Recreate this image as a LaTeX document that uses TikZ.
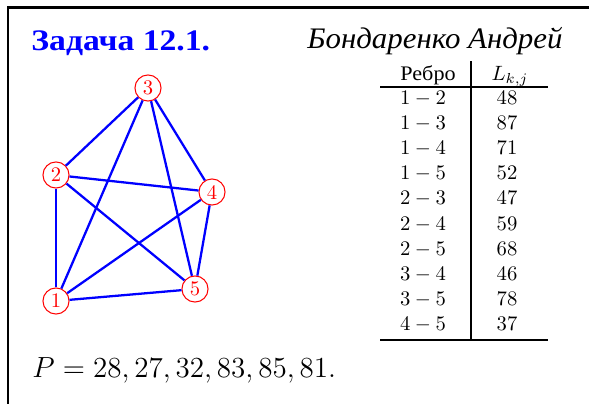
\documentclass[tikz,border=0pt]{standalone}
\usepackage{fontspec}
\newfontfamily\titlefont[FakeStretch=1.13]{Liberation Serif}
\newfontfamily\namefont[FakeStretch=1.035]{Liberation Serif}
\newfontfamily\headfont[FakeStretch=1.07]{Liberation Serif}
\begin{document}
\begin{tikzpicture}[x=0.4831pt,y=-0.4831pt,
  vtx/.style={circle,draw=red,line width=0.5pt,text=red,minimum size=12.6pt,inner sep=0pt,font=\normalsize},
  edge/.style={blue,line width=1.1pt},
  rulel/.style={line width=1.3pt},
  frameline/.style={line width=1.35pt},
  txt/.style={anchor=base,inner sep=0pt,font=\normalsize}]
\useasboundingbox (0,0) rectangle (589,403);
% frame
\coordinate (fb) at (8,410);
\coordinate (fc) at (8,7.7);
\coordinate (fr) at (595,7.7);
\draw[frameline] (fb) -- (fc) -- (fr);
% title and author
\node[anchor=base west,inner sep=0pt,text=blue,font=\titlefont\Large\bfseries] (title) at (31,50) {Задача 12.1.};
\node[anchor=base west,inner sep=0pt,font=\namefont\Large\itshape] (author) at (307,48) {Бондаренко Андрей};
% graph
\node[vtx] (n1) at (56,301) {1};
\node[vtx] (n2) at (56,175) {2};
\node[vtx] (n3) at (148,88) {3};
\node[vtx] (n4) at (212,192) {4};
\node[vtx] (n5) at (195,289) {5};
\draw[edge] (n1) -- (n2);
\draw[edge] (n1) -- (n3);
\draw[edge] (n1) -- (n4);
\draw[edge] (n1) -- (n5);
\draw[edge] (n2) -- (n3);
\draw[edge] (n2) -- (n4);
\draw[edge] (n2) -- (n5);
\draw[edge] (n3) -- (n4);
\draw[edge] (n3) -- (n5);
\draw[edge] (n4) -- (n5);
% table
\node[txt,font=\headfont\normalsize] (hA) at (428,80) {Ребро};
\node[txt] (hB) at (510,80) {$L_{k,j}$};
\coordinate (vt) at (471,61);
\coordinate (vb) at (471,340);
\coordinate (h1l) at (380,87);
\coordinate (h1r) at (548,87);
\coordinate (h2l) at (380,340);
\coordinate (h2r) at (548,340);
\draw[rulel] (vt) -- (vb);
\draw[rulel] (h1l) -- (h1r);
\draw[rulel] (h2l) -- (h2r);
\foreach \e/\v [count=\i from 0] in {1-2/48,1-3/87,1-4/71,1-5/52,2-3/47,2-4/59,2-5/68,3-4/46,3-5/78,4-5/37}{
  \node[txt] (ra\i) at (423,104.5+25.1*\i) {$\e$};
  \node[txt] (rb\i) at (507,104.5+25.1*\i) {$\v$};
}
% formula
\node[anchor=base west,inner sep=0pt,font=\Large] (P) at (32,377) {\scalebox{0.977}{$P=28,27,32,83,85,81.$}};
\end{tikzpicture}
\end{document}
